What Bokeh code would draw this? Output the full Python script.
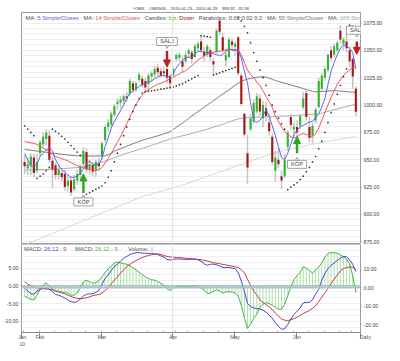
from bokeh.plotting import figure
from bokeh.layouts import column
from bokeh.models import (Range1d, LinearAxis, FixedTicker, Span, Label, Arrow, Title,
                          NormalHead, ColumnDataSource, PrintfTickFormatter,
                          CustomJSTickFormatter)
from bokeh.core.properties import value
from bokeh.embed import file_html
from bokeh.resources import INLINE

# ---------------- data ----------------
days = list(range(108))   # trading days 2010-01-25 .. 2010-06-29

opens = [948, 942, 945, 952, 940, 956, 964, 969, 972, 949,
         945, 936, 938, 937, 926, 931, 923, 931, 936, 946,
         957, 941, 945, 940, 947, 953, 968, 980, 982, 991,
         1001, 1002, 1004, 1008, 1010, 1020, 1014, 1023, 1024, 1022,
         1019, 1026, 1028, 1034, 1031, 1031, 1033, 1026, 1027, 1042,
         1043, 1040, 1040, 1047, 1048, 1044, 1052, 1058, 1049, 1046,
         1050, 1040, 1049, 1077, 1062, 1041, 1044, 1058, 1053, 1062,
         1027, 992, 956, 978, 985, 994, 1006, 988, 997, 984,
         971, 940, 950, 935, 935, 962, 989, 978, 980, 981,
         998, 1011, 980, 972, 986, 998, 1015, 1025, 1032, 1050,
         1046, 1050, 1068, 1056, 1058, 1050, 1042, 1015]
highs = [954, 952, 956, 955, 955, 968, 975, 978, 977, 953,
         947, 946, 941, 941, 936, 935, 936, 941, 946, 961,
         960, 950, 948, 950, 952, 967, 982, 987, 994, 1001,
         1006, 1008, 1010, 1012, 1024, 1022, 1022, 1030, 1027, 1025,
         1029, 1031, 1036, 1038, 1034, 1035, 1036, 1028, 1035, 1047,
         1048, 1045, 1049, 1052, 1050, 1056, 1058, 1064, 1053, 1056,
         1053, 1043, 1070, 1080, 1066, 1052, 1062, 1061, 1058, 1063,
         1029, 993, 973, 992, 1005, 1011, 1010, 1004, 1003, 992,
         974, 958, 960, 940, 955, 977, 992, 984, 986, 992,
         1012, 1014, 989, 984, 998, 1025, 1029, 1036, 1047, 1054,
         1056, 1059, 1073, 1062, 1066, 1053, 1044, 1017]
lows = [937, 936, 936, 934, 938, 953, 962, 963, 947, 924,
        932, 932, 930, 922, 921, 917, 921, 927, 933, 944,
        938, 936, 935, 934, 940, 951, 966, 976, 979, 989,
        996, 997, 1001, 1003, 1008, 1011, 1012, 1021, 1016, 1012,
        1013, 1021, 1025, 1026, 1025, 1026, 1020, 1015, 1025, 1040,
        1040, 1030, 1038, 1043, 1038, 1043, 1049, 1048, 1040, 1044,
        1040, 1028, 1047, 1064, 1048, 1035, 1043, 1050, 1045, 1027,
        999, 971, 928, 976, 983, 992, 990, 980, 985, 972,
        945, 930, 942, 923, 933, 958, 978, 971, 968, 978,
        996, 986, 966, 965, 983, 997, 1013, 1022, 1030, 1040,
        1044, 1048, 1056, 1050, 1048, 1035, 1015, 990]
closes = [944, 946, 953, 938, 948, 966, 971, 975, 950, 941,
          936, 941, 934, 925, 931, 920, 932, 937, 944, 958,
          941, 946, 939, 948, 944, 965, 980, 984, 992, 999,
          1003, 1005, 1008, 1006, 1022, 1014, 1020, 1028, 1018, 1016,
          1027, 1029, 1033, 1030, 1027, 1029, 1025, 1020, 1033, 1046,
          1046, 1035, 1046, 1050, 1042, 1054, 1056, 1050, 1045, 1054,
          1044, 1037, 1068, 1067, 1050, 1046, 1060, 1055, 1056, 1029,
          1001, 973, 943, 988, 1002, 1008, 994, 1000, 990, 976,
          948, 952, 946, 931, 950, 975, 982, 980, 975, 990,
          1006, 989, 970, 981, 996, 1022, 1027, 1033, 1046, 1043,
          1054, 1057, 1060, 1060, 1052, 1040, 1026, 993.92]

ma5 = [955.6, 950, 944, 944, 946, 953, 956, 959, 961, 958,
       950, 945, 941, 938.5, 936, 934, 934, 935, 938, 942,
       946, 949, 946, 944.5, 946, 951, 962, 970, 979, 985,
       990, 995, 1000, 1006, 1011, 1013, 1015, 1017, 1019, 1020,
       1021, 1022, 1024, 1025.5, 1027, 1027, 1026, 1026, 1029, 1034,
       1038, 1041, 1043, 1044, 1043, 1047, 1049, 1049, 1048, 1048,
       1048, 1047, 1046, 1045, 1046, 1049, 1052, 1050, 1050, 1050,
       1043, 1031, 1020, 1002, 986, 984, 986, 990, 996, 990,
       981, 972, 962, 952, 950, 956, 964, 973, 977, 980,
       981.5, 983, 984.5, 985, 989, 992, 998, 1006, 1019, 1031,
       1039, 1046, 1052, 1055, 1054, 1052, 1048, 1033]
ma14 = [966.7, 966, 965.5, 965, 964, 962.5, 961, 959, 957, 955,
        953, 952, 951, 950, 949, 947.5, 946, 944.7, 943.5, 942.5,
        941.7, 941, 940.5, 940, 941, 943, 947, 951, 956, 961,
        966, 971, 977, 983, 989, 995, 1001, 1005, 1009, 1012,
        1014, 1016, 1017.5, 1019, 1020, 1021, 1022.5, 1024, 1025.6, 1027,
        1028.5, 1030, 1031.5, 1033.5, 1036, 1038.5, 1041, 1043, 1045, 1046.5,
        1047.7, 1048.3, 1048.8, 1049.2, 1049.7, 1050.2, 1050.6, 1050.7, 1050.7, 1050.6,
        1046, 1039, 1032, 1028, 1025, 1021, 1018, 1013, 1008, 1003,
        998, 990, 985, 980, 976, 973, 971, 970, 971, 973,
        974, 973, 972, 971, 974, 979, 986, 993, 1000, 1007,
        1013, 1019, 1023, 1027, 1030, 1032, 1034, 1035]
ma50 = [959.4, 959, 958.7, 958.3, 958, 957.6, 957.2, 956.8, 956.5, 956,
        955.7, 955.4, 955, 954.7, 954.4, 954, 953.8, 953.6, 953.5, 953.4,
        953.4, 953.4, 953.4, 953.4, 953.5, 953.5, 953.6, 954.5, 956, 957.9,
        959, 960.2, 961.3, 962.4, 963.5, 964.6, 965.7, 966.8, 967.8, 968.6,
        969.4, 970.2, 971, 971.9, 972.8, 973.7, 974.6, 975.6, 977.6, 979.6,
        981.6, 983.6, 985.6, 987.8, 990, 992, 994, 996, 998, 1000,
        1002, 1004, 1006, 1008, 1010, 1012, 1013.8, 1016, 1018, 1020,
        1021.8, 1022.8, 1023.8, 1024.3, 1024.8, 1025.3, 1025.7, 1026, 1025.5, 1024.5,
        1023.5, 1022.5, 1021.5, 1020.8, 1020, 1019.2, 1018.4, 1017.6, 1016.8, 1016,
        1015, 1014.2, 1013.4, 1012.6, 1012, 1012.2, 1012.4, 1012.6, 1012.8, 1013,
        1013.2, 1013, 1012.8, 1012.5, 1012.2, 1012, 1011.8, 1011.5]
ma100 = [940.5, 940.6, 940.7, 940.8, 940.9, 941, 941.1, 941.2, 941.3, 941.4,
         941.5, 941.7, 941.9, 942.1, 942.3, 942.5, 942.7, 942.9, 943.1, 943.4,
         944, 944.7, 945.5, 946.3, 947.1, 947.9, 948.6, 949.6, 950.8, 952,
         953, 954, 955, 955.9, 956.8, 957.7, 958.6, 959.5, 960.4, 961.3,
         962.2, 963.1, 964, 965, 966, 967, 968, 969, 969.8, 970.5,
         971.2, 971.9, 972.6, 973.3, 974, 974.8, 975.6, 976.4, 977.2, 978,
         978.9, 979.8, 980.6, 981.5, 982.5, 983.5, 984.5, 985.5, 986.5, 987.4,
         987.7, 988, 988.3, 988.6, 988.8, 988.9, 989, 989.1, 989.2, 989.3,
         989.5, 989.6, 989.7, 989.8, 989.9, 990, 990.2, 990.4, 990.6, 990.8,
         991, 991.2, 991.4, 991.5, 991.7, 991.8, 992.6, 993.4, 994.2, 995,
         995.8, 996.5, 997.2, 997.9, 998.6, 999.3, 1000, 1000.6]
ma200 = [872, 873.3, 874.6, 875.6, 876.8, 878, 879.2, 880.4, 881.5, 882.7,
         883.9, 885, 886.2, 887.4, 888.6, 889.7, 890.9, 892, 893.2, 894.4,
         895.5, 896.7, 897.9, 899, 900.2, 901.3, 902.5, 903.6, 904.8, 905.9,
         907, 908.2, 909.3, 910.5, 911.6, 912.8, 913.9, 915.1, 916.3, 917.2,
         918, 918.8, 919.6, 920.4, 921.2, 922, 922.8, 923.6, 924.4, 925.2,
         926, 926.9, 927.8, 928.8, 929.8, 930.8, 931.8, 932.8, 933.8, 934.8,
         935.8, 936.8, 937.8, 938.8, 939.8, 940.8, 941.8, 942.8, 943.8, 944.8,
         945.8, 946.8, 947.8, 948.8, 949.8, 950.8, 951.8, 952.8, 953.8, 954.8,
         955.8, 956.5, 957.2, 957.9, 958.6, 959.3, 960, 960.6, 961.2, 961.8,
         962.4, 963, 963.6, 964.2, 964.8, 965.3, 965.8, 966.3, 966.8, 967.3,
         967.8, 968.3, 968.8, 969.3, 969.8, 970.3, 970.8, 971.2]
sar = [981, 978, 975, 972, 933, 935, 937, 940, 943, 978,
       976, 974, 971.5, 969, 966, 963, 960, 957, 954, 917,
       918.5, 920, 921.5, 923, 924.5, 926, 929, 934, 940, 948,
       956, 964, 972, 980, 987, 994, 1000, 1006, 1011, 1012,
       1012.5, 1013, 1013.5, 1014, 1014.5, 1015, 1015.5, 1016, 1016.5, 1017.5,
       1018.5, 1019.5, 1021, 1022.5, 1024, 1025.5, 1027, 1063.5, 1063, 1062.5,
       1062, 1027.5, 1028.5, 1029.5, 1030.5, 1031.5, 1032.5, 1033.5, 1034.5, 1080,
       1077, 1072, 1066, 1057, 1048, 1040, 1032, 1025, 1018, 1009,
       1000, 994, 988, 983, 978, 922.7, 925, 927, 929, 932,
       935, 939, 943, 948, 953, 960, 967, 975, 984, 993,
       1001, 1010, 1018, 1026, 1033, 1073, 1072, 1070]

macd = [-0.3, -1.8, -3.3, -3.6, -2.0, -1.0, -0.5, -0.6, -0.9, -2.2,
        -3.8, -4.1, -4.8, -5.6, -6.8, -7.6, -8.0, -7.6, -6.2, -4.6,
        -3.6, -3.4, -3.4, -2.6, -1.5, 1.8, 4.8, 6.8, 9.2, 11.4,
        12.6, 14.4, 15.8, 16.8, 17.8, 18.4, 18.8, 18.8, 18.6, 18.5,
        18.4, 18.3, 18.2, 17.8, 17.1, 16.4, 15.2, 14.8, 15.2, 15.4,
        15.4, 15.3, 15.2, 15.1, 15.3, 15.3, 15.0, 14.2, 12.8, 12.0,
        12.6, 12.6, 12.3, 11.6, 10.8, 10.8, 10.8, 10.5, 10.2, 8.0,
        3.5, -2.0, -8.6, -10.3, -11.0, -11.4, -11.5, -12.2, -13.2, -15.0,
        -16.5, -19.0, -21.0, -22.5, -22.3, -20.0, -17.0, -14.5, -12.8, -11.0,
        -8.3, -8.0, -8.0, -6.6, -3.5, -1.0, 4.0, 7.5, 10.2, 12.0,
        13.3, 14.6, 15.9, 16.7, 16.6, 15.0, 12.5, 8.6]
signal = [3.1, 1.9, 1.0, 0.3, -0.1, -0.5, -0.6, -0.7, -0.8, -1.2,
          -2.0, -2.5, -2.9, -3.5, -4.1, -4.8, -5.4, -5.8, -6.0, -5.9,
          -5.5, -5.0, -4.4, -4.0, -3.8, -3.0, -1.6, -0.2, 2.0, 4.0,
          5.8, 7.8, 9.6, 11.2, 12.5, 13.6, 14.6, 15.4, 16.2, 16.8,
          17.3, 17.7, 18.0, 18.1, 17.8, 17.3, 16.8, 16.5, 16.4, 16.2,
          16.2, 16.0, 15.8, 15.7, 15.6, 15.4, 15.2, 15.0, 14.7, 14.3,
          14.0, 13.4, 13.1, 12.9, 12.5, 12.2, 11.9, 11.6, 11.2, 10.8,
          9.6, 8.0, 4.5, 1.2, -2.0, -4.0, -6.6, -8.0, -9.2, -10.4,
          -11.8, -13.8, -15.4, -17.0, -17.6, -17.8, -17.4, -16.8, -16.0, -15.0,
          -14.0, -13.2, -12.4, -11.2, -9.8, -7.6, -5.2, -2.8, -0.4, 2.2,
          4.6, 6.8, 9.0, 10.2, 10.8, 11.1, 10.9, 9.9]
hist = [-2.9, -3.3, -3.8, -4.0, -2.6, -1.0, 0.2, 0.9, 0.0, -0.9,
        -1.3, -1.5, -1.7, -1.9, -2.0, -2.6, -2.6, -2.0, -0.6, 1.2,
        1.6, 1.2, 0.8, 0.9, 1.5, 2.6, 3.8, 4.8, 5.6, 6.5,
        6.7, 6.5, 6.3, 6.1, 5.7, 5.1, 4.5, 3.9, 3.2, 2.6,
        2.1, 1.8, 1.6, 1.2, 0.8, 0.2, -0.8, -1.3, -0.7, -0.2,
        0.0, -0.1, -0.2, -0.1, 0.0, 0.0, -0.2, -0.6, -1.1, -2.2,
        -2.0, -1.6, -1.1, -1.4, -2.0, -1.7, -1.6, -1.7, -2.0, -2.9,
        -5.5, -9.0, -12.0, -10.8, -9.2, -8.0, -6.0, -5.2, -4.7, -5.0,
        -5.4, -6.0, -6.6, -6.6, -5.2, -2.8, -0.2, 1.8, 2.9, 3.8,
        5.4, 5.0, 4.4, 3.6, 4.6, 5.4, 6.5, 8.2, 9.2, 9.4,
        9.4, 9.2, 8.8, 8.2, 7.6, 6.2, 2.8, -1.8]

month_names = ["Jan", "Feb", "Mar", "Apr", "May", "Jun"]
year_label = "10"
period_label = "Daily"
month_start_day = [0, 5, 25, 48, 68, 88]
week_start_day = [0, 5, 10, 15, 20, 25, 30, 35, 40, 45, 49, 53, 58, 63,
                  68, 73, 77, 82, 87, 92, 97, 102, 106]
price_ticks = [875, 900, 925, 950, 975, 1000, 1025, 1050, 1075]
hist_ticks = [-10, -5, 0, 5]
macd_ticks = [-20, -10, 0, 10]

buy_days = [19, 88]
buy_from = [919.6, 956.0]
buy_to = [937.1, 971.2]
buy_label_y = [911.5, 945.8]
sell_days = [46, 107.3]
sell_from = [1049.4, 1058.1]
sell_to = [1034.8, 1046.4]
sell_label_y = [1058.1, 1068.4]

title_parts = ["^OMX", "OMXS30", "2010-01-25 - 2010-06-29", "993.92", "-31.96"]

# ---------------- layout / style ----------------
S = 0.955
FW, FH1, FH2 = 339, 232, 88
BL, BR = 20, 23
x_lo, x_hi = -1.0, 108.5
y_lo, y_hi = 872.55, 1084.6
FONT = "Liberation Sans"
NB = "\u00a0"
C_LAB = "#555555"
C_UP, C_DOWN = "#2fb52f", "#a81414"
C_MA5, C_MA14 = "#6464ee", "#ea5a5a"
C_MA50, C_MA100, C_MA200 = "#7c7c7c", "#ababab", "#d6d6d6"
C_BLUE, C_RED, C_GREEN = "#4646c4", "#c83c3c", "#44b844"
C_OUT = "#9c9c9c"

CW = {' ': .278, '.': .278, ',': .278, ':': .278, '/': .278, '-': .333, '|': .26,
      '^': .469, 'M': .833, 'A': .667, 'S': .667, 'C': .722, 'D': .722, 'U': .722,
      'P': .667, 'V': .667, 'O': .778, 'X': .667, 'i': .222, 'l': .222, 'm': .833,
      'w': .722, 'r': .333, 's': .5, 'c': .5, 'y': .5}


def tw(s, fs):
    return fs * sum(CW.get(ch, 0.556) for ch in s)


ppd = FW / (x_hi - x_lo)
ppu = FH1 / (y_hi - y_lo)

# ---------------- main price panel ----------------
p = figure(frame_width=FW, frame_height=FH1, x_range=Range1d(x_lo, x_hi),
           y_range=Range1d(y_lo, y_hi), x_axis_location=None, y_axis_location="right",
           output_backend="svg", toolbar_location=None,
           min_border_left=BL, min_border_right=BR, min_border_top=12, min_border_bottom=0,
           background_fill_color="white", border_fill_color="white")
p.outline_line_color = C_OUT
p.xgrid.visible = False
p.ygrid.ticker = FixedTicker(ticks=list(range(875, 1085, 5)))
p.ygrid.grid_line_color = "#ededed"
ya = p.yaxis[0]
ya.ticker = FixedTicker(ticks=price_ticks)
ya.formatter = PrintfTickFormatter(format="%.2f")
ya.axis_line_color = None
ya.major_tick_out = 1
ya.major_tick_in = 0
ya.minor_tick_line_color = None
ya.major_tick_line_color = C_OUT
ya.major_label_standoff = 2
ya.major_label_text_font = FONT
ya.major_label_text_font_size = "5.2px"
ya.major_label_text_color = "#444444"

# title row above the price panel
p.add_layout(Title(text=(NB * 4).join(title_parts[:3]) + NB * 4 + (NB * 2).join(title_parts[3:]),
                   align="center", text_font=FONT, text_font_size="4.2px",
                   text_font_style="normal", text_color="#333333", standoff=3), "above")

month_ticks = [x_lo] + [d - 0.25 for d in month_start_day[1:]]
week_ticks = [d - 0.25 for d in week_start_day]
p.add_layout(Span(location=month_ticks[3], dimension="height", line_color="#e2e2e2", line_width=1))

src = ColumnDataSource(dict(
    x=days, h=highs, l=lows,
    top=[max(o, c) for o, c in zip(opens, closes)],
    bot=[min(o, c) for o, c in zip(opens, closes)],
    col=[C_UP if c >= o else C_DOWN for o, c in zip(opens, closes)],
    ma5=ma5, ma14=ma14, ma50=ma50, ma100=ma100, ma200=ma200, sar=sar))

p.line("x", "ma200", source=src, line_color=C_MA200, line_width=1)
p.line("x", "ma100", source=src, line_color=C_MA100, line_width=1)
p.line("x", "ma50", source=src, line_color=C_MA50, line_width=1)
p.vbar(x="x", width=0.48, top="h", bottom="l", source=src, fill_color="#c4c4c4", line_color=None)
p.vbar(x="x", width=0.68, top="top", bottom="bot", source=src, fill_color="col", line_color=None)
p.line("x", "ma14", source=src, line_color=C_MA14, line_width=1)
p.line("x", "ma5", source=src, line_color=C_MA5, line_width=1)
p.scatter("x", "sar", source=src, size=1.7, marker="circle", fill_color="#333333", line_color=None)

# buy / sell signals
box_w = 20 * S / ppd
box_h = 8.4 * S / ppu
bsrc = ColumnDataSource(dict(x=buy_days, y0=buy_from, y1=buy_to, yl=buy_label_y,
                             yt=[v + box_h / 2 for v in buy_label_y], t=["KÖP"] * len(buy_days)))
ssrc = ColumnDataSource(dict(x=sell_days, y0=sell_from, y1=sell_to, yl=sell_label_y,
                             yt=[v - box_h / 2 for v in sell_label_y], t=["SÄLJ"] * len(sell_days)))
G_AR, R_AR = "#2aa52a", "#c41a1a"
p.add_layout(Arrow(end=NormalHead(size=7, fill_color=G_AR, line_color=G_AR),
                   x_start="x", y_start="y0", x_end="x", y_end="y1", source=bsrc,
                   line_color=G_AR, line_width=2.4))
p.add_layout(Arrow(end=NormalHead(size=7, fill_color=R_AR, line_color=R_AR),
                   x_start="x", y_start="y0", x_end="x", y_end="y1", source=ssrc,
                   line_color=R_AR, line_width=2.4))
for s_, mk in ((bsrc, "triangle"), (ssrc, "inverted_triangle")):
    p.scatter("x", "yt", source=s_, marker=mk, size=5, fill_color="white", line_color="#a0a0a0")
    p.rect("x", "yl", width=box_w * (1.08 if mk != "triangle" else 1.0), height=box_h, source=s_,
           fill_color="white", line_color="#a0a0a0", line_width=1)
    p.text("x", "yl", text="t", source=s_, text_align="center", text_baseline="middle",
           text_font=value(FONT), text_font_size=value("5.7px"), text_color="#444444")

# legend row inside the price panel (clipped by the frame like the original)
leg_pieces = [("MA:", C_LAB, .278), ("5 Simple/Closes", C_MA5, .83),
              ("MA:", C_LAB, .278), ("14 Simple/Closes", C_MA14, .83),
              ("Candles:", C_LAB, .278), ("Up", C_UP, 0.0), (",", C_LAB, .278), ("Down", C_DOWN, .83),
              ("Parabolics:", C_LAB, .278), ("0.02 0.02 0.2", C_LAB, .83),
              ("MA:", C_LAB, .278), ("50 Simple/Closes", C_MA50, .83),
              ("MA:", C_LAB, .278), ("100 Simple/Closes", C_MA100, .83)]
fs_leg = 6.0 * S
px = (25 - 20.7) * S
lx, lt, lc = [], [], []
for t, c, g in leg_pieces:
    lx.append(x_lo + px / ppd)
    lt.append(t)
    lc.append(c)
    px += tw(t, fs_leg) + g * fs_leg
ly = y_hi - (19 - 13) * S / ppu
p.text(x=lx, y=[ly] * len(lx), text=lt, text_color=lc, text_align="left", text_baseline="middle",
       text_font=value(FONT), text_font_size=value("%.2fpx" % fs_leg))

# ---------------- MACD panel ----------------
q = figure(frame_width=FW, frame_height=FH2, x_range=p.x_range, y_range=Range1d(-13.14, 11.69),
           output_backend="svg", toolbar_location=None,
           min_border_left=BL, min_border_right=BR, min_border_top=0, min_border_bottom=12,
           background_fill_color="white", border_fill_color="white")
q.extra_y_ranges = {"macd": Range1d(-24.26, 23.23)}
q.outline_line_color = C_OUT
q.xgrid.visible = False
q.ygrid.ticker = FixedTicker(ticks=[k * 5 / 3 for k in range(-7, 8)])
q.ygrid.grid_line_color = "#efefef"

la = q.yaxis[0]
la.ticker = FixedTicker(ticks=hist_ticks)
ra = LinearAxis(y_range_name="macd", ticker=FixedTicker(ticks=macd_ticks))
q.add_layout(ra, "right")
for ax in (la, ra):
    ax.formatter = PrintfTickFormatter(format="%.2f")
    ax.axis_line_color = None
    ax.major_tick_out = 1
    ax.major_tick_in = 0
    ax.minor_tick_line_color = None
    ax.major_tick_line_color = C_OUT
    ax.major_label_standoff = 2
    ax.major_label_text_font = FONT
    ax.major_label_text_font_size = "5.2px"
    ax.major_label_text_color = "#444444"

# time axis: month ticks hanging below the axis, names beside them
x_ticks = month_ticks + [x_hi]
x_names = [NB + month_names[0] + "\n" + NB + year_label] + [NB + m for m in month_names[1:]] \
    + [NB * 7 + period_label]
xa = q.xaxis[0]
xa.ticker = FixedTicker(ticks=x_ticks, minor_ticks=week_ticks)
xa.formatter = CustomJSTickFormatter(code="return ''")
xa.major_label_overrides = {t: n for t, n in zip(x_ticks, x_names)}
xa.major_label_text_font = FONT
xa.major_label_text_font_size = "5px"
xa.major_label_text_color = "#555555"
xa.major_label_text_align = "left"
xa.major_label_standoff = -5
xa.major_tick_out = 6
xa.major_tick_in = 0
xa.minor_tick_in = 2
xa.minor_tick_out = 0
xa.axis_line_color = "#8a8a8a"
xa.major_tick_line_color = "#8a8a8a"
xa.minor_tick_line_color = "#b0b0b0"

q.add_layout(Span(location=month_ticks[3], dimension="height", line_color="#e2e2e2", line_width=1))

msrc = ColumnDataSource(dict(x=days, macd=macd, signal=signal, hist=hist, zero=[0] * len(days)))
q.segment(x0="x", y0="zero", x1="x", y1="hist", source=msrc, line_color="#ade0ad", line_width=1)
q.add_layout(Span(location=0, dimension="width", line_color="#66c466", line_width=1))
q.add_layout(Span(location=0, dimension="width", y_range_name="macd",
                  line_color="#b8b8e6", line_width=2))
q.line("x", "hist", source=msrc, line_color=C_GREEN, line_width=1)
q.line("x", "signal", source=msrc, y_range_name="macd", line_color=C_RED, line_width=1)
q.line("x", "macd", source=msrc, y_range_name="macd", line_color=C_BLUE, line_width=1)

# MACD legend
mpieces = [("MACD:", C_LAB, .278), ("26,12", C_BLUE, .278), (":", C_RED, .278), ("9", C_RED, 1.5),
           ("MACD:", C_LAB, .278), ("26,12 - 9", C_GREEN, 1.8),
           ("Volume:", C_LAB, .278), ("||", "#9aaad0", 0)]
px = (23.3 - 20.7) * S
for t, c, g in mpieces:
    q.add_layout(Label(x=px, y=FH2 - (260 - 255.7) * S, x_units="screen", y_units="screen",
                       text=t, text_font=FONT, text_font_size="%.2fpx" % fs_leg, text_color=c,
                       text_align="left", text_baseline="middle"))
    px += tw(t, fs_leg) + g * fs_leg

layout = column(p, q)
open("out.html", "w").write(file_html(layout, INLINE))
